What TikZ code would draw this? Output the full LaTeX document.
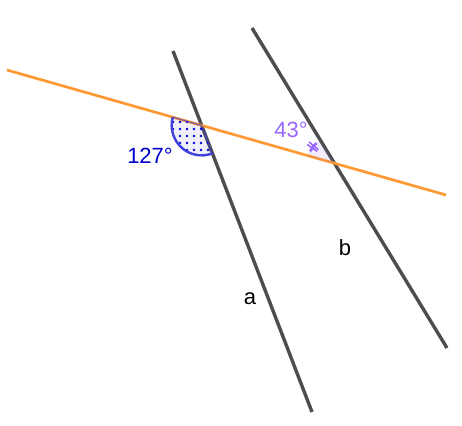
\documentclass[tikz,border=0pt]{standalone}
\usepackage{fontspec}
\setmainfont{Liberation Sans}
\usetikzlibrary{calc}
\begin{document}
\begin{tikzpicture}[x=1pt,y=1pt,
  lineab/.style={draw=lgray,line width=3.4pt},
  transv/.style={draw=lorange,line width=2.7pt},
  lbl/.style={font=\fontsize{22}{26}\selectfont,inner sep=0pt},
  dotm/.style={fill=dotblue}]
\definecolor{lgray}{RGB}{77,77,77}
\definecolor{lorange}{RGB}{255,153,51}
\definecolor{arcblue}{RGB}{64,64,220}
\definecolor{dotblue}{RGB}{0,0,220}
\definecolor{txtblue}{RGB}{0,0,204}
\definecolor{lpurple}{RGB}{153,102,255}
\useasboundingbox (0,0) rectangle (462,425);
\fill[white] (0,0) rectangle (462,425);
% endpoints (screen y flipped: y' = 425 - y)
\coordinate (O1) at (7,355);
\coordinate (O2) at (446,230);
\coordinate (A1) at (173,374);
\coordinate (A2) at (312,13);
\coordinate (B1) at (252,397);
\coordinate (B2) at (447,77);
\coordinate (A) at (intersection of O1--O2 and A1--A2);
\coordinate (B) at (intersection of O1--O2 and B1--B2);
% lines
\draw[lineab] (A1) -- (A2);
\draw[lineab] (B1) -- (B2);
\draw[transv] (O1) -- (O2);
% 127 degree sector with dots
\begin{scope}
  \clip (A) -- ++(164.1:30) arc[start angle=164.1,end angle=291.06,radius=30] -- cycle;
  \fill[arcblue,opacity=0.08] (A) -- ++(164.1:30) arc[start angle=164.1,end angle=291.06,radius=30] -- cycle;
  \foreach \i in {0,...,6}{
    \foreach \j in {0,...,6}{
      \fill[dotm] (166+7*\i,303-7*\j) circle (1.35);
    }
  }
\end{scope}
\draw[arcblue,line width=1.3pt,opacity=0.6] (A) -- ++(164.1:30);
\draw[arcblue,line width=1.3pt,opacity=0.6] (A) -- ++(291.06:30);
\draw[arcblue,line width=2.4pt] (A) ++(164.1:30) arc[start angle=164.1,end angle=291.06,radius=30];
% 43 degree sector
\fill[lpurple,opacity=0.12] (B) -- ++(121.36:27) arc[start angle=121.36,end angle=164.1,radius=27] -- cycle;
\draw[lpurple,line width=0.6pt,opacity=0.25] (B) ++(121.36:27) arc[start angle=121.36,end angle=164.1,radius=27];
\draw[lpurple,line width=2.6pt] (B) ++(132:27) arc[start angle=132,end angle=154,radius=27];
\draw[lpurple,line width=1.6pt] ($(B)+(140:21)$) -- ($(B)+(140:33)$);
\draw[lpurple,line width=1.6pt] ($(B)+(145.5:21)$) -- ($(B)+(145.5:33)$);
% labels
\node[lbl,text=txtblue] (l127) at (150,269) {127°};
\node[lbl,text=lpurple] (l43) at (291,295) {43°};
\node[lbl] (la) at (250,126) {a};
\node[lbl] (lb) at (345,177) {b};
\end{tikzpicture}
\end{document}
